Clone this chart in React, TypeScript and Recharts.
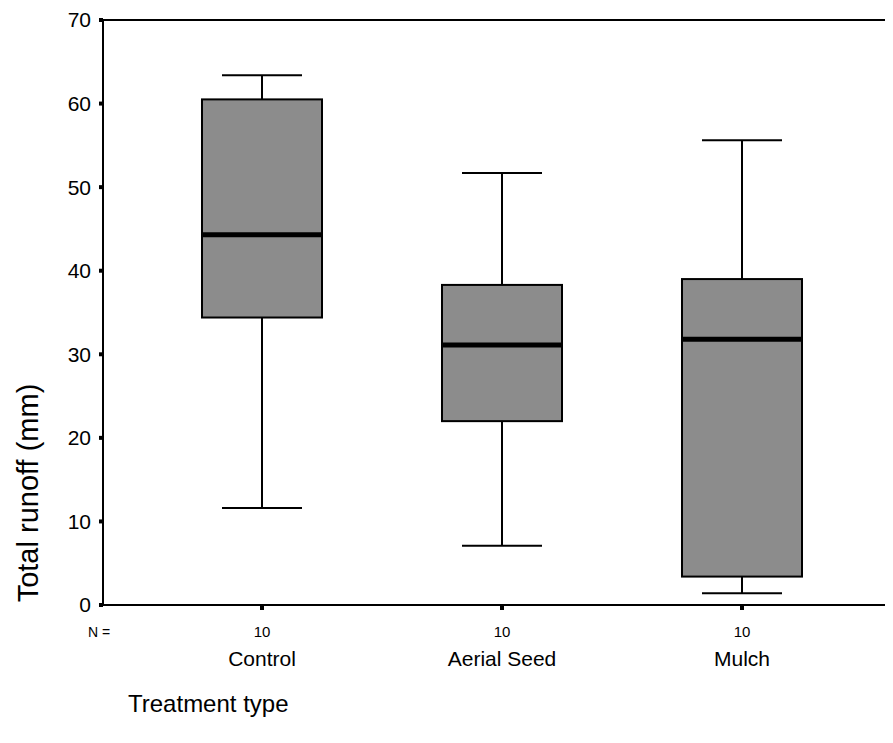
import React from "react";
import {
  Bar,
  ComposedChart,
  Label,
  ReferenceLine,
  XAxis,
  YAxis,
} from "recharts";

const treatments = ["Control", "Aerial Seed", "Mulch"];
const counts = [10, 10, 10];
const minValues = [11.6, 7.1, 1.4];
const q1Values = [34.4, 22.0, 3.4];
const medianValues = [44.3, 31.1, 31.8];
const q3Values = [60.5, 38.3, 39.0];
const maxValues = [63.4, 51.7, 55.6];
const yTicks = [0, 10, 20, 30, 40, 50, 60, 70];

const data = treatments.map((name, i) => ({
  name,
  n: counts[i],
  base: minValues[i],
  lowWhisker: q1Values[i] - minValues[i],
  lowBox: medianValues[i] - q1Values[i],
  highBox: q3Values[i] - medianValues[i],
  highWhisker: maxValues[i] - q3Values[i],
}));

const FONT = "'Liberation Sans', Arial, sans-serif";
const BOX_FILL = "#8c8c8c";
const CAP = 40;

const Empty = () => null;

const LowWhisker = (p: any) => {
  const cx = p.x + p.width / 2;
  const bottom = p.y + p.height;
  return (
    <g>
      <line x1={cx} x2={cx} y1={p.y} y2={bottom} stroke="#000" strokeWidth={2} />
      <line x1={cx - CAP} x2={cx + CAP} y1={bottom} y2={bottom} stroke="#000" strokeWidth={2} />
    </g>
  );
};

const HighWhisker = (p: any) => {
  const cx = p.x + p.width / 2;
  return (
    <g>
      <line x1={cx} x2={cx} y1={p.y} y2={p.y + p.height} stroke="#000" strokeWidth={2} />
      <line x1={cx - CAP} x2={cx + CAP} y1={p.y} y2={p.y} stroke="#000" strokeWidth={2} />
    </g>
  );
};

const LowBox = (p: any) => (
  <rect x={p.x} y={p.y} width={p.width} height={p.height} fill={BOX_FILL} stroke="#000" strokeWidth={2} />
);

const HighBox = (p: any) => {
  const bottom = p.y + p.height;
  return (
    <g>
      <rect x={p.x} y={p.y} width={p.width} height={p.height} fill={BOX_FILL} stroke="#000" strokeWidth={2} />
      <line x1={p.x} x2={p.x + p.width} y1={bottom} y2={bottom} stroke="#000" strokeWidth={5} />
    </g>
  );
};

const CategoryTick = (p: any) => {
  const { x, y, payload, index } = p;
  return (
    <g>
      <text x={x} y={y + 25} textAnchor="middle" fontFamily={FONT} fontSize={15} fill="#000">
        {counts[index]}
      </text>
      <text x={x} y={y + 54} textAnchor="middle" fontFamily={FONT} fontSize={21} fill="#000">
        {payload.value}
      </text>
      {index === 0 && (
        <text x={88} y={y + 25} fontFamily={FONT} fontSize={14} fill="#000">
          {"N ="}
        </text>
      )}
      {index === 0 && (
        <text x={128} y={y + 100} fontFamily={FONT} fontSize={24} fill="#000">
          Treatment type
        </text>
      )}
    </g>
  );
};

export default function App() {
  return (
    <div style={{ margin: -8, width: 893, height: 743, overflow: "hidden", background: "#fff" }}>
      <ComposedChart
        width={893}
        height={743}
        data={data}
        margin={{ top: 20, right: -8, bottom: 0, left: 0 }}
      >
        <XAxis
          dataKey="name"
          padding={{ left: 39, right: 39 }}
          height={138}
          axisLine={{ stroke: "#000", strokeWidth: 2 }}
          tickLine={{ stroke: "#000", strokeWidth: 4 }}
          tickSize={5}
          tick={<CategoryTick />}
          interval={0}
        />
        <YAxis
          domain={[0, 70]}
          ticks={yTicks}
          width={103}
          axisLine={{ stroke: "#000", strokeWidth: 2 }}
          tickLine={{ stroke: "#000", strokeWidth: 4 }}
          tickSize={4}
          tickMargin={8}
          tick={{ fill: "#000", fontSize: 21, fontFamily: FONT }}
        >
          <Label
            content={() => (
              <text
                x={0}
                y={0}
                transform="translate(38, 493) rotate(-90)"
                textAnchor="middle"
                fontFamily={FONT}
                fontSize={29}
                fill="#000"
              >
                Total runoff (mm)
              </text>
            )}
          />
        </YAxis>
        <ReferenceLine y={70} stroke="#000" strokeWidth={2} />
        <Bar dataKey="base" stackId="b" barSize={120} shape={<Empty />} isAnimationActive={false} />
        <Bar dataKey="lowWhisker" stackId="b" barSize={120} shape={<LowWhisker />} isAnimationActive={false} />
        <Bar dataKey="lowBox" stackId="b" barSize={120} shape={<LowBox />} isAnimationActive={false} />
        <Bar dataKey="highBox" stackId="b" barSize={120} shape={<HighBox />} isAnimationActive={false} />
        <Bar dataKey="highWhisker" stackId="b" barSize={120} shape={<HighWhisker />} isAnimationActive={false} />
      </ComposedChart>
    </div>
  );
}
